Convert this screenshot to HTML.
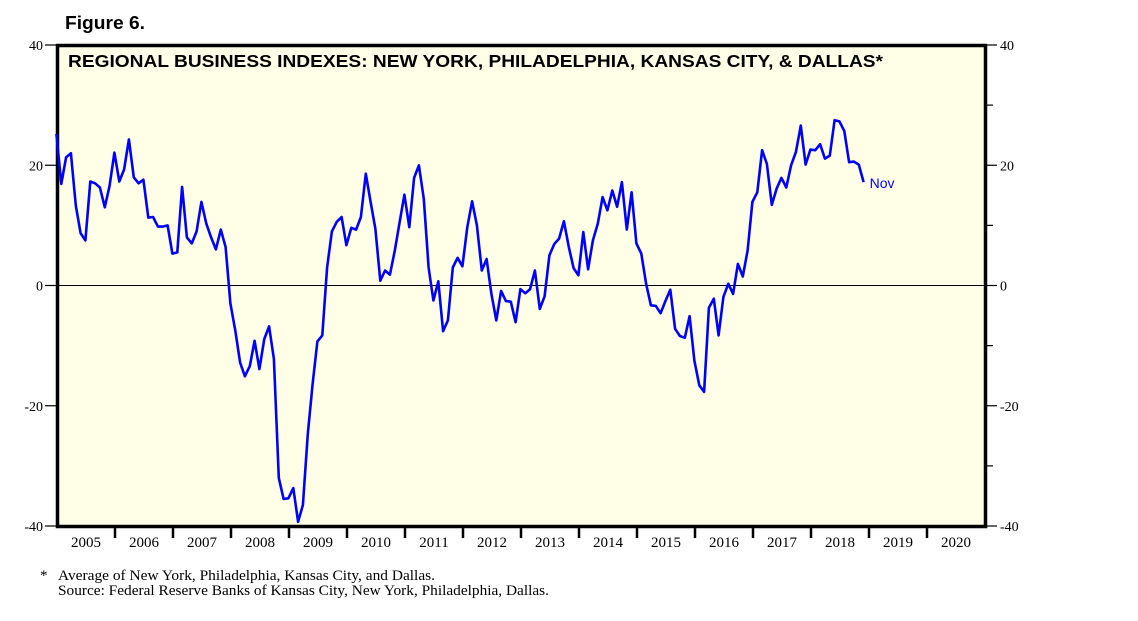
<!DOCTYPE html>
<html><head><meta charset="utf-8"><style>
body{margin:0;background:#fff;width:1138px;height:621px;overflow:hidden}
svg{display:block}
</style></head><body>
<svg width="1138" height="621">
<text x="65" y="29" font-family="Liberation Sans, sans-serif" font-weight="bold" font-size="18" textLength="80" lengthAdjust="spacingAndGlyphs">Figure 6.</text>
<rect x="57.5" y="45.5" width="928" height="481" fill="#FFFFE8" stroke="#000" stroke-width="3.5"/>
<text x="68" y="67" font-family="Liberation Sans, sans-serif" font-weight="bold" font-size="17.5" textLength="815" lengthAdjust="spacingAndGlyphs">REGIONAL BUSINESS INDEXES: NEW YORK, PHILADELPHIA, KANSAS CITY, &amp; DALLAS*</text>
<g id="axes"></g>
<g id="series"></g>
<text x="40" y="580" font-family="Liberation Serif, serif" font-size="15">*</text>
<text x="58" y="580" font-family="Liberation Serif, serif" font-size="15" textLength="377" lengthAdjust="spacingAndGlyphs">Average of New York, Philadelphia, Kansas City, and Dallas.</text>
<text x="58" y="595" font-family="Liberation Serif, serif" font-size="15" textLength="491" lengthAdjust="spacingAndGlyphs">Source: Federal Reserve Banks of Kansas City, New York, Philadelphia, Dallas.</text>
</svg>
<script>
const yTicks=[40,20,0,-20,-40];
const yMinor=[30,10,-10,-30];
const years=[2005,2006,2007,2008,2009,2010,2011,2012,2013,2014,2015,2016,2017,2018,2019,2020];
const startYear=2004.99;
const values=[25.2,16.9,21.3,22,13.3,8.7,7.5,17.3,17,16.3,13,16.6,22.1,17.3,19.3,24.3,18,17,17.6,11.3,11.4,9.8,9.8,10,5.3,5.5,16.4,8,7,9,13.9,10.3,8,6,9.3,6.4,-3,-7.5,-12.8,-15.1,-13.4,-9.2,-13.9,-8.9,-6.8,-12.2,-32,-35.5,-35.4,-33.7,-39.3,-36.5,-24.7,-16.4,-9.3,-8.3,3,9,10.6,11.4,6.7,9.6,9.3,11.4,18.6,13.9,9.4,0.8,2.5,1.8,5.8,10.5,15.1,9.7,17.9,20,14.4,3,-2.5,0.7,-7.6,-5.8,3,4.6,3.2,9.7,14,10,2.5,4.4,-1.4,-5.8,-0.9,-2.6,-2.7,-6.1,-0.6,-1.3,-0.6,2.5,-3.9,-1.8,5,6.9,7.8,10.7,6.4,2.9,1.7,8.9,2.7,7.5,10.3,14.7,12.5,15.8,13.1,17.2,9.3,15.5,7,5.3,0.3,-3.3,-3.4,-4.6,-2.6,-0.7,-7.2,-8.4,-8.7,-5.1,-12.5,-16.6,-17.7,-3.7,-2.2,-8.3,-1.9,0.3,-1.4,3.6,1.5,5.8,13.9,15.5,22.5,20.2,13.4,16.1,17.9,16.3,20,22.2,26.6,20.1,22.6,22.5,23.5,21.1,21.6,27.5,27.3,25.7,20.5,20.6,20.1,17.2];
const endLabel='Nov';
const NS='http://www.w3.org/2000/svg';
const X0=57,X1=985,Y0=526,Y1=45;
function xs(t){return X0+(t-2005)/16*(X1-X0);}
function ys(v){return Y0-(v+40)/80*(Y0-Y1);}
function mk(tag,attrs,parent,text){const e=document.createElementNS(NS,tag);for(const k in attrs)e.setAttribute(k,attrs[k]);if(text!==undefined)e.textContent=text;parent.appendChild(e);return e;}
const ax=document.getElementById('axes');
yTicks.forEach(v=>{
  const y=ys(v);
  let l=mk('line',{x1:45,x2:57,y1:y,y2:y,stroke:'#000','stroke-width':1.2},ax);
  
  
  let r=mk('line',{x1:986,x2:997,y1:y,y2:y,stroke:'#000','stroke-width':1.2},ax);
  
  
  let t=mk('text',{x:43,y:y+5,'text-anchor':'end','font-family':'Liberation Serif, serif','font-size':14},ax,String(v));
  
  
  let t2=mk('text',{x:1000,y:y+5,'font-family':'Liberation Serif, serif','font-size':14},ax,String(v));
  
  
  if(v===0){
    let z=mk('line',{x1:X0,x2:X1,y1:y,y2:y,stroke:'#000','stroke-width':1},ax);
    
    
  }
});
yMinor.forEach(v=>{
  const y=ys(v);
  let r=mk('line',{x1:986,x2:993,y1:y,y2:y,stroke:'#000','stroke-width':1.2},ax);
  
  
});
years.forEach(yr=>{
  const x=xs(yr);
  if(yr>2005){
    let l=mk('line',{x1:x,x2:x,y1:526,y2:538,stroke:'#000','stroke-width':2.5},ax);
    
    
  }
  let t=mk('text',{x:xs(yr+0.5),y:547,'text-anchor':'middle','font-family':'Liberation Serif, serif','font-size':15},ax,String(yr));
  
  
});
const sg=document.getElementById('series');
const pts=values.map((v,i)=>xs(startYear+i/12).toFixed(1)+','+ys(v).toFixed(1)).join(' ');
const pl=mk('polyline',{points:pts,fill:'none',stroke:'#0000FF','stroke-width':2.6,'stroke-linejoin':'round'},sg);


const li=values.length-1;
const lab=mk('text',{x:xs(startYear+li/12)+6,y:ys(values[li])+6,fill:'#0000FF','font-family':'Liberation Sans, sans-serif','font-size':14},sg,endLabel);


</script>
</body></html>
